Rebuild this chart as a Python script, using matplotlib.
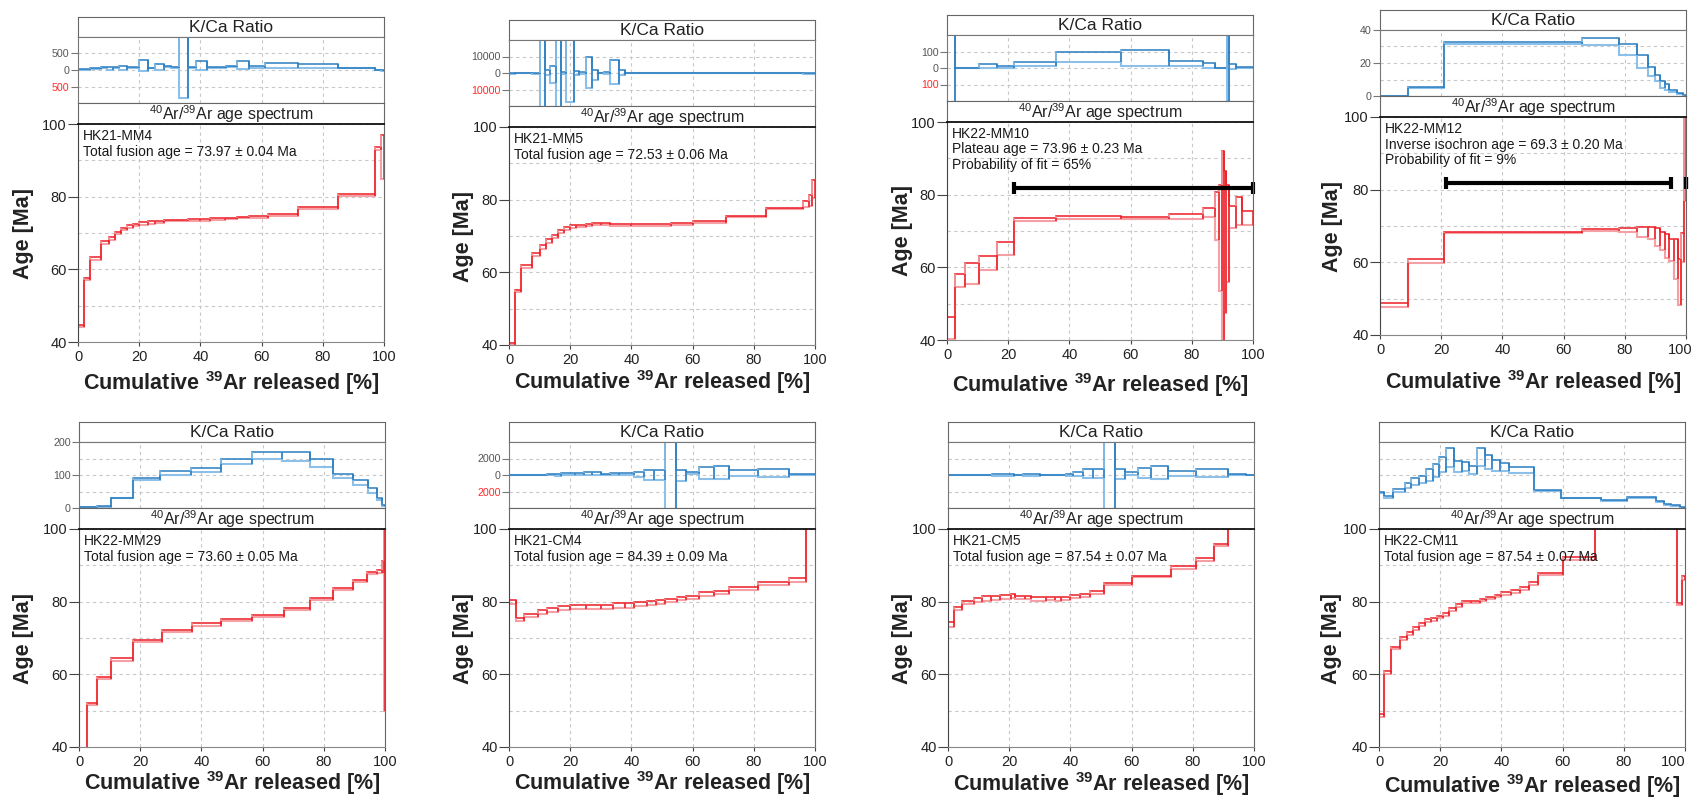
import matplotlib.pyplot as plt
import numpy as np
from matplotlib.transforms import ScaledTranslation

plt.rcParams['font.family'] = ['Liberation Sans', 'DejaVu Sans']
plt.rcParams['mathtext.default'] = 'regular'

W, H = 1694, 799
PANEL_W = 306
STRIP_H, KCA_H, AGE_STRIP_H, AGE_H = 20, 66, 21, 218

# ---- HK21-MM4 ----
MM4_AGE_EDGES = [0, 2, 4, 7.5, 10, 12, 14, 16, 18, 20, 23, 25, 28, 33, 36, 40, 43, 48, 52, 56, 62, 72, 85, 97, 99, 100]
MM4_AGE = [44.5, 57.3, 63.0, 67.4, 68.6, 70.0, 71.1, 71.8, 72.3, 72.6, 72.9, 73.1, 73.4, 73.5, 73.6, 73.6,
           73.8, 74.0, 74.2, 74.4, 75.0, 76.9, 80.4, 93.2, 91.0]
MM4_AGE_ERR = [0.3, 0.3, 0.3, 0.4, 0.4, 0.3, 0.3, 0.3, 0.3, 0.3, 0.3, 0.3, 0.2, 0.2, 0.2, 0.2, 0.2, 0.2,
               0.2, 0.2, 0.2, 0.2, 0.2, 0.4, 6.0]
MM4_KCA_EDGES = [0, 3.8, 7.5, 9.5, 11.5, 13.5, 16, 18, 20, 23, 25, 28, 30.5, 33, 36, 38.5, 42, 45, 48.5, 52,
                 56, 61, 72, 85, 97, 99, 100]
MM4_KCA = [20, 50, 80, 45, 80, 60, 80, 80, 140, 60, 95, 100, 75, 100, 70, 130, 80, 70, 110, 150, 100, 140,
           120, 60, 0, -20]
MM4_KCA_ERR = [5, 10, 10, 55, 10, 70, 20, 20, 160, 10, 95, 10, 25, 930, 20, 130, 20, 20, 15, 110, 30, 70,
               50, 10, 10, 10]

# ---- HK21-MM5 ----
MM5_AGE_EDGES = [0, 2, 4, 7.5, 10, 12, 14, 16, 18, 20, 22, 25, 27, 30, 33, 40, 53, 60, 71, 84, 96, 98, 99, 100]
MM5_AGE = [40.3, 54.9, 61.6, 64.9, 66.9, 68.7, 69.9, 71.3, 72.1, 72.5, 72.8, 73.1, 73.4, 73.2, 73.1, 73.0,
           73.4, 73.9, 75.4, 77.6, 78.9, 79.7, 83.0]
MM5_AGE_ERR = [0.3, 0.3, 0.3, 0.5, 0.6, 0.6, 0.5, 0.4, 0.4, 0.4, 0.3, 0.3, 0.3, 0.3, 0.3, 0.3, 0.3, 0.2,
               0.2, 0.2, 0.8, 1.5, 2.5]
MM5_KCA_EDGES = [0, 2, 7.5, 10, 11.7, 13.4, 15.3, 17.1, 18.7, 21.1, 23, 25, 27, 29, 31, 33, 36, 38, 45, 49, 96, 100]
MM5_KCA = [-200, 0, -200, 0, 350, -1000, 0, 0, 3000, 200, 0, 600, -1200, 0, -200, 600, 300, 100, 0, 0, -300]
MM5_KCA_ERR = [200, 100, 200, 30000, 1350, 5200, 30000, 400, 20700, 1300, 500, 9400, 3000, 300, 700, 7400,
               1300, 200, 100, 50, 100]

# ---- HK22-MM10 ----
MM10_AGE_EDGES = [0, 2.7, 6, 10.5, 16.3, 22, 35.5, 57, 72.5, 83.5, 87.5, 89, 89.8, 90.5, 91.3, 92.3, 94.5, 96.5, 100]
MM10_AGE = [43.3, 56.4, 58.3, 61.2, 65.2, 73.15, 73.8, 73.55, 74.0, 75.0, 74.2, 68.0, 66.0, 67.0, 69.3,
            73.9, 75.5, 73.6]
MM10_AGE_ERR = [2.9, 1.8, 2.9, 2.0, 1.8, 0.4, 0.4, 0.35, 0.8, 1.2, 6.6, 14.6, 26.0, 19.5, 13.3, 3.0, 3.9, 2.0]
MM10_KCA_EDGES = [0, 2.7, 10.5, 16.3, 22, 35.5, 57, 72.5, 83.5, 87.5, 91.5, 92, 94.5, 100]
MM10_KCA = [0, 0, 11, 7, 26, 64, 61, 25, 14, 0, 0, 8, 4]
MM10_KCA_ERR = [500, 1, 11, 7, 12, 30, 47, 15, 14, 2, 500, 14, 2]
MM10_PLATEAU = [(21.8, 100, 81.9)]

# ---- HK22-MM12 ----
MM12_AGE_EDGES = [0, 9, 21, 66, 78, 84, 87.5, 90, 91.5, 93, 94.5, 96, 97.5, 98.3, 99.3, 100]
MM12_AGE = [48.25, 60.35, 68.3, 68.95, 68.85, 68.4, 68.1, 67.0, 65.9, 64.5, 63.4, 60.9, 54.6, 64.0, 95.0]
MM12_AGE_ERR = [0.45, 0.45, 0.15, 0.35, 0.55, 1.3, 1.7, 2.5, 2.5, 3.2, 3.0, 5.4, 6.3, 4.0, 18.0]
MM12_KCA_EDGES = [0, 9, 21, 66, 78, 84, 87.5, 90, 91.5, 93, 94.5, 97, 99, 100]
MM12_KCA = [0.1, 5, 32.1, 33, 28.3, 21, 14.9, 11, 7, 5.3, 3, 1.4, 0.2]
MM12_KCA_ERR = [0.1, 0.2, 0.5, 2, 3.3, 4, 2.5, 2, 2, 1.7, 0.5, 0.3, 0.2]
MM12_PLATEAU = [(21.5, 95, 81.9), (100, 100, 81.9)]

# ---- HK22-MM29 ----
MM29_AGE_EDGES = [0, 2.7, 6, 10.5, 17.5, 27, 37, 46.5, 56.5, 67, 75.5, 83, 89.5, 94, 97.5, 99, 99.7, 100]
MM29_AGE = [35.0, 51.9, 58.9, 64.2, 69.1, 72.0, 73.7, 75.0, 76.1, 78.0, 80.75, 83.5, 85.8, 87.8, 88.3,
            89.5, 74.8]
MM29_AGE_ERR = [0.3, 0.3, 0.3, 0.4, 0.3, 0.3, 0.3, 0.3, 0.3, 0.3, 0.3, 0.3, 0.3, 0.3, 0.5, 1.6, 25.0]
MM29_KCA_EDGES = [0, 6, 10.5, 17.5, 26.5, 36.5, 46.5, 56.5, 66.5, 75.5, 83, 89.5, 94.5, 97.5, 99, 100]
MM29_KCA = [3, 5, 30, 88.5, 105.5, 114.5, 141, 158.5, 156.5, 136.5, 96, 77.5, 52.5, 28, 7]
MM29_KCA_ERR = [1, 1, 1, 3.5, 6.5, 6.5, 9, 11.5, 13.5, 11.5, 6, 7.5, 7.5, 3, 2]

# ---- HK21-CM4 ----
CM4_AGE_EDGES = [0, 2.3, 5, 9.5, 12.5, 16, 20, 25, 30, 34, 38, 41, 45, 48, 51, 55, 58, 62, 67, 72, 81.5,
                 91.5, 97, 100]
CM4_AGE = [79.95, 75.15, 76.3, 77.05, 77.7, 78.2, 78.55, 78.6, 78.6, 78.85, 79.0, 79.3, 79.6, 80.0, 80.4,
           80.8, 81.2, 82.1, 82.5, 83.6, 84.9, 85.9, 110.0]
CM4_AGE_ERR = [0.55, 0.45, 0.4, 0.55, 0.6, 0.5, 0.45, 0.5, 0.6, 0.65, 0.7, 0.55, 0.55, 0.55, 0.45, 0.45,
               0.45, 0.55, 0.45, 0.35, 0.4, 0.5, 2.0]
CM4_KCA_EDGES = [0, 2.3, 9.5, 12.5, 15, 17, 21.5, 24.5, 27, 30, 33, 36, 41, 44, 47.5, 51, 54.5, 58, 62, 67,
                 72, 81.5, 91.5, 100]
CM4_KCA = [0, 0, 30, 100, 10, 120, 120, 180, 180, 40, 100, 100, 40, 0, 0, 0, -40, 200, 220, 280, 240, 280, 40]
CM4_KCA_ERR = [40, 20, 30, 50, 130, 80, 120, 140, 140, 60, 100, 100, 280, 600, 600, 10000, 640, 120, 700,
               800, 360, 480, 30]

# ---- HK21-CM5 ----
CM5_AGE_EDGES = [0, 2, 4.5, 8.5, 11, 14, 17, 20.5, 22, 25, 27, 32, 35, 37, 40, 43, 46.5, 51, 60, 73, 81,
                 87, 91.5, 100]
CM5_AGE = [73.7, 78.05, 79.7, 80.5, 80.9, 81.1, 81.3, 81.5, 81.2, 81.1, 80.8, 80.9, 80.7, 80.9, 81.3, 81.7,
           82.5, 84.8, 87.0, 89.4, 91.6, 95.5, 110.0]
CM5_AGE_ERR = [0.7, 0.45, 0.4, 0.55, 0.6, 0.55, 0.45, 0.55, 0.4, 0.4, 0.5, 0.4, 0.55, 0.45, 0.4, 0.35,
               0.35, 0.35, 0.2, 0.35, 0.3, 0.25, 2.0]
CM5_KCA_EDGES = [0, 12, 14.5, 21.5, 24.5, 30, 38.5, 41, 44, 47.5, 51, 54.5, 58, 62, 66.5, 72, 81, 91.5, 97.5, 100]
CM5_KCA = [0, 20, 0, 0, 0, 0, 0, 100, 160, 160, 0, 140, 160, 220, 280, 220, 280, 40, 0]
CM5_KCA_ERR = [20, 30, 160, 30, 160, 30, 160, 220, 560, 560, 10000, 620, 160, 620, 760, 300, 480, 30, 10]

# ---- HK22-CM11 ----
CM11_AGE_EDGES = [0, 1.5, 4, 7, 9, 11, 13, 15, 17, 19, 21, 23, 25, 27, 30, 33, 35, 38, 40, 43, 46, 49, 52,
                  60, 70.5, 97.5, 99, 100]
CM11_AGE = [48.55, 60.5, 67.25, 69.8, 71.3, 72.6, 73.8, 74.7, 75.2, 75.8, 76.5, 77.9, 79.0, 79.9, 80.0,
            80.5, 81.0, 81.6, 82.3, 82.8, 83.6, 85.0, 87.6, 92.0, 115.0, 79.4, 86.5]
CM11_AGE_ERR = [0.4, 0.35, 0.3, 0.4, 0.4, 0.35, 0.4, 0.4, 0.4, 0.35, 0.4, 0.4, 0.35, 0.35, 0.3, 0.35, 0.3,
                0.35, 0.35, 0.3, 0.35, 0.4, 0.35, 0.4, 2.0, 0.3, 0.5]
CM11_KCA_EDGES = [0, 1.5, 4.5, 8.5, 10.5, 13, 15.5, 17.5, 19.5, 22, 24.5, 27, 29.5, 32, 34.5, 37, 39.5,
                  42.5, 50.5, 59.5, 72.5, 81, 90.5, 93, 95.5, 98.5, 100]
CM11_KCA = [9.4, 6.6, 10.6, 13.9, 16, 17.3, 19.8, 22.7, 26.3, 30.4, 25.3, 25.3, 23, 30.8, 27.7, 25.8, 25,
            22.8, 10.6, 6.1, 4.5, 6.2, 4.0, 2.2, 1.6, 0.4]
CM11_KCA_ERR = [0.5, 0.7, 0.7, 1.5, 2, 2.3, 3.6, 3.7, 4.4, 5.8, 3.3, 2.7, 2.4, 5.3, 4.3, 3.2, 2.5, 1.8,
                0.3, 0.2, 0.3, 0.3, 0.2, 0.2, 0.3, 0.2]

NOTES = {
    'MM4': ['HK21-MM4', 'Total fusion age = 73.97 ± 0.04 Ma'],
    'MM5': ['HK21-MM5', 'Total fusion age = 72.53 ± 0.06 Ma'],
    'MM10': ['HK22-MM10', 'Plateau age = 73.96 ± 0.23 Ma', 'Probability of fit = 65%'],
    'MM12': ['HK22-MM12', 'Inverse isochron age = 69.3 ± 0.20 Ma', 'Probability of fit = 9%'],
    'MM29': ['HK22-MM29', 'Total fusion age = 73.60 ± 0.05 Ma'],
    'CM4': ['HK21-CM4', 'Total fusion age = 84.39 ± 0.09 Ma'],
    'CM5': ['HK21-CM5', 'Total fusion age = 87.54 ± 0.07 Ma'],
    'CM11': ['HK22-CM11', 'Total fusion age = 87.54 ± 0.07 Ma'],
}

RED, RED_LIGHT = '#ec1c24', '#f5a0a4'
BLUE, BLUE_LIGHT = '#2a7dc0', '#8cc0e8'
GRID = '#c8c8c8'
DASH = (0, (3, 3))


def px_axes(fig, left, top, width, height):
    return fig.add_axes([left / W, 1 - (top + height) / H, width / W, height / H])


def draw_steps(ax, edges, vals, errs, dark, light):
    edges = np.asarray(edges, float)
    vals = np.asarray(vals, float)
    errs = np.asarray(errs, float)
    lo, hi = vals - errs, vals + errs
    ax.vlines(edges[:-1], lo, hi, color=light, lw=1.1)
    ax.vlines(edges[1:], lo, hi, color=dark, lw=1.1)
    ax.stairs(lo, edges, baseline=None, color=light, lw=1.5)
    ax.stairs(hi, edges, baseline=None, color=dark, lw=1.1)


def strip(fig, left, top, height, label, size):
    ax = px_axes(fig, left, top, PANEL_W, height)
    ax.set_xticks([])
    ax.set_yticks([])
    for s in ax.spines.values():
        s.set_color('#666666')
    ax.text(0.5, 0.48, label, transform=ax.transAxes, ha='center', va='center',
            fontsize=size, color='#222222')
    return ax


def panel(fig, left, top, ylab_gap, xlab_gap, key, kca_data, kca_lim, kca_ticks, kca_minor,
          kca_labels, age_data, plateaus=(), last_tick_shift=None):
    y = top
    strip(fig, left, y, STRIP_H, 'K/Ca Ratio', 12.5)
    y += STRIP_H

    # K/Ca ratio panel
    axk = px_axes(fig, left, y, PANEL_W, KCA_H)
    draw_steps(axk, *kca_data, BLUE, BLUE_LIGHT)
    axk.set_xlim(0, 100)
    axk.set_ylim(*kca_lim)
    axk.set_xticks([20, 40, 60, 80])
    axk.tick_params(axis='x', length=0, labelbottom=False)
    axk.set_yticks(kca_ticks)
    axk.set_yticks(kca_minor, minor=True)
    if kca_labels:
        axk.set_yticklabels([f'{abs(t):g}' for t in kca_ticks])
        for t, lab in zip(kca_ticks, axk.get_yticklabels()):
            lab.set_color('#ff2a2a' if t < 0 else '#555555')
        axk.tick_params(axis='y', which='major', length=5, color='#777777', labelsize=7.7, pad=1)
    else:
        axk.set_yticklabels([])
        axk.tick_params(axis='y', which='major', length=0)
    axk.tick_params(axis='y', which='minor', length=0)
    axk.grid(True, which='both', color=GRID, ls=DASH, lw=0.8)
    axk.set_axisbelow(True)
    for s in axk.spines.values():
        s.set_color('#777777')
    y += KCA_H

    strip(fig, left, y, AGE_STRIP_H, '$^{40}$Ar/$^{39}$Ar age spectrum', 11.5)
    y += AGE_STRIP_H

    # age spectrum panel
    axa = px_axes(fig, left, y, PANEL_W, AGE_H)
    draw_steps(axa, *age_data, RED, RED_LIGHT)
    for x0, x1, yv in plateaus:
        axa.plot([x0, x1], [yv, yv], color='black', lw=3, solid_capstyle='butt', clip_on=False)
        axa.plot([x0, x1], [yv, yv], ls='none', marker='|', ms=8, mew=3, color='black', clip_on=False)
    axa.set_xlim(0, 100)
    axa.set_ylim(40, 100)
    axa.set_xticks(range(0, 101, 20))
    axa.set_yticks([40, 60, 80, 100])
    axa.set_yticks([50, 70, 90], minor=True)
    axa.tick_params(axis='y', which='major', length=7, color='#444444', labelsize=10.5,
                    labelcolor='#222222', pad=1)
    axa.tick_params(axis='y', which='minor', length=0)
    axa.tick_params(axis='x', length=3, color='#444444', labelsize=10.5, labelcolor='#222222', pad=3)
    if last_tick_shift is not None:
        # keep the "100" label inside the figure edge
        lab = axa.get_xticklabels()[-1]
        lab.set_horizontalalignment('right')
        lab.set_transform(lab.get_transform()
                          + ScaledTranslation(last_tick_shift / 100, 0, fig.dpi_scale_trans))
    axa.grid(True, which='both', color=GRID, ls=DASH, lw=0.8)
    axa.set_axisbelow(True)
    axa.spines['top'].set_color('#111111')
    axa.spines['top'].set_linewidth(1.3)
    axa.spines['left'].set_color('#444444')
    axa.spines['bottom'].set_color('#888888')
    axa.spines['right'].set_color('#666666')

    for i, line in enumerate(NOTES[key]):
        axa.text(5 / PANEL_W, 1 - (12 + 15.5 * i) / AGE_H, line, transform=axa.transAxes,
                 fontsize=10, color='#1a1a1a', va='center', ha='left')

    axa.text(-ylab_gap / PANEL_W, 0.5, 'Age [Ma]', transform=axa.transAxes, rotation=90,
             ha='center', va='center', fontsize=15.5, fontweight='bold', color='#222222')
    axa.text(0.5, -xlab_gap / AGE_H, 'Cumulative $^{39}$Ar released [%]', transform=axa.transAxes,
             ha='center', va='center', fontsize=15.5, fontweight='bold', color='#222222')


fig = plt.figure(figsize=(W / 100, H / 100), dpi=100)

panel(fig, 78, 17, 55, 41, 'MM4', (MM4_KCA_EDGES, MM4_KCA, MM4_KCA_ERR), (-990, 990),
      [-500, 0, 500], [], True, (MM4_AGE_EDGES, MM4_AGE, MM4_AGE_ERR))
panel(fig, 509, 20, 46, 37, 'MM5', (MM5_KCA_EDGES, MM5_KCA, MM5_KCA_ERR), (-20000, 20000),
      [-10000, 0, 10000], [], True, (MM5_AGE_EDGES, MM5_AGE, MM5_AGE_ERR))
panel(fig, 947, 15, 45, 45, 'MM10', (MM10_KCA_EDGES, MM10_KCA, MM10_KCA_ERR), (-200, 200),
      [-100, 0, 100], [], True, (MM10_AGE_EDGES, MM10_AGE, MM10_AGE_ERR), MM10_PLATEAU)
panel(fig, 1380, 10, 48, 47, 'MM12', (MM12_KCA_EDGES, MM12_KCA, MM12_KCA_ERR), (0, 40),
      [0, 20, 40], [10, 30], True, (MM12_AGE_EDGES, MM12_AGE, MM12_AGE_ERR), MM12_PLATEAU,
      last_tick_shift=6)

panel(fig, 79, 422, 56, 36, 'MM29', (MM29_KCA_EDGES, MM29_KCA, MM29_KCA_ERR), (0, 200),
      [0, 100, 200], [50, 150], True, (MM29_AGE_EDGES, MM29_AGE, MM29_AGE_ERR))
panel(fig, 509, 422, 46, 36, 'CM4', (CM4_KCA_EDGES, CM4_KCA, CM4_KCA_ERR), (-4000, 4000),
      [-2000, 0, 2000], [], True, (CM4_AGE_EDGES, CM4_AGE, CM4_AGE_ERR))
panel(fig, 948, 422, 46, 37, 'CM5', (CM5_KCA_EDGES, CM5_KCA, CM5_KCA_ERR), (-4000, 4000),
      [-2000, 0, 2000], [], False, (CM5_AGE_EDGES, CM5_AGE, CM5_AGE_ERR))
panel(fig, 1379, 422, 47, 39, 'CM11', (CM11_KCA_EDGES, CM11_KCA, CM11_KCA_ERR), (0, 40),
      [10, 20, 30], [], False, (CM11_AGE_EDGES, CM11_AGE, CM11_AGE_ERR), last_tick_shift=1)

fig.savefig('out.png', dpi=100)
